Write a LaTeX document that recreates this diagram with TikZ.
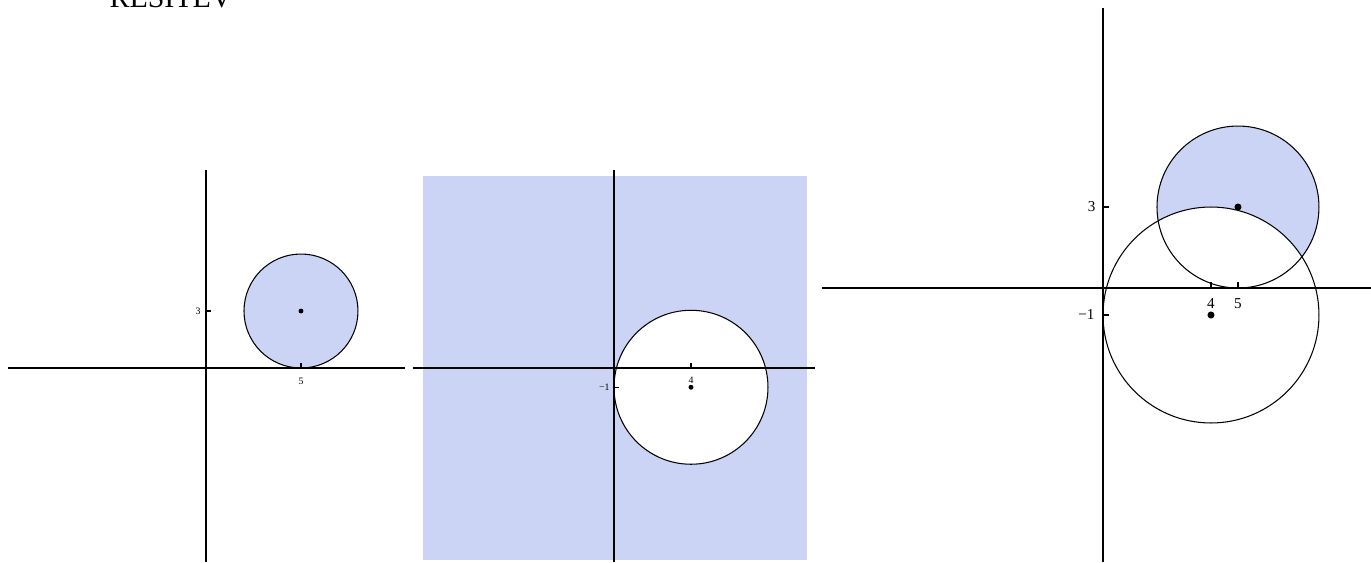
\documentclass[tikz,border=0pt]{standalone}
\usepackage{fontspec}
\setmainfont{Liberation Serif}
\usepackage{tikz}
\usetikzlibrary{positioning}
\definecolor{region}{HTML}{CCD4F6}
\definecolor{ink}{HTML}{000000}

\begin{document}
\begin{tikzpicture}[x=0.02cm, y=-0.02cm, line width=0.6pt,
    small/.style={font=\fontsize{5.6}{6.5}\selectfont, inner sep=0pt},
    big/.style={font=\fontsize{8.6}{10}\selectfont, inner sep=0pt}]
  \useasboundingbox (0,0) rectangle (1371,562);
  \node[font=\fontsize{17}{20}\selectfont, anchor=base] (title) at (171,7) {REŠITEV};
  % panel 1 (disc)
  \begin{scope}[shift={(206,368)}, x=0.38cm, y=0.38cm]
    \fill[region] (5,3) circle (3);
    \draw (-10.4,0)--(10.45,0); \draw (0,-10.2)--(0,10.4);
    \draw (5,3) circle (3);
    \draw (5,0)--(5,0.26); \draw (0,3)--(0.26,3);
    \fill (5,3) circle (1.4pt);
    \node[small] (xfive) at (5,-0.68) {5};
    \node[small, anchor=east] (ythree) at (-0.26,3) {3};
  \end{scope}
  % panel 2 (outside of disc)
  \begin{scope}[shift={(614,368)}, x=0.385cm, y=0.385cm]
    \fill[region] (-9.92,-9.97) rectangle (10.03,9.97);
    \fill[white] (4,-1) circle (4);
    \draw (-10.44,0)--(10.44,0); \draw (0,-10.1)--(0,10.3);
    \draw (4,-1) circle (4);
    \draw (4,0)--(4,0.26); \draw (0,-1)--(0.26,-1);
    \fill (4,-1) circle (1.4pt);
    \node[small] (xfour) at (4,-0.62) {4};
    \node[small, anchor=east] (yminus) at (-0.2,-1) {−1};
  \end{scope}
  % panel 3 (difference)
  \begin{scope}[shift={(1103,288)}, x=0.54cm, y=0.54cm]
    \fill[region] (5,3) circle (3);
    \begin{scope}
      \clip (5,3) circle (3);
      \fill[white] (4,-1) circle (4);
    \end{scope}
    \draw (-10.4,0)--(10.4,0); \draw (0,-10.15)--(0,10.37);
    \draw (5,3) circle (3); \draw (4,-1) circle (4);
    \draw (4,0)--(4,0.22); \draw (5,0)--(5,0.22);
    \draw (0,3)--(0.22,3); \draw (0,-1)--(0.22,-1);
    \fill (5,3) circle (2pt); \fill (4,-1) circle (2pt);
    \node[big] (bfour) at (4,-0.56) {4};
    \node[big] (bfive) at (5,-0.56) {5};
    \node[big, anchor=east] (bthree) at (-0.26,3) {3};
    \node[big, anchor=east] (bminus) at (-0.3,-1) {−1};
  \end{scope}
\end{tikzpicture}
\end{document}
